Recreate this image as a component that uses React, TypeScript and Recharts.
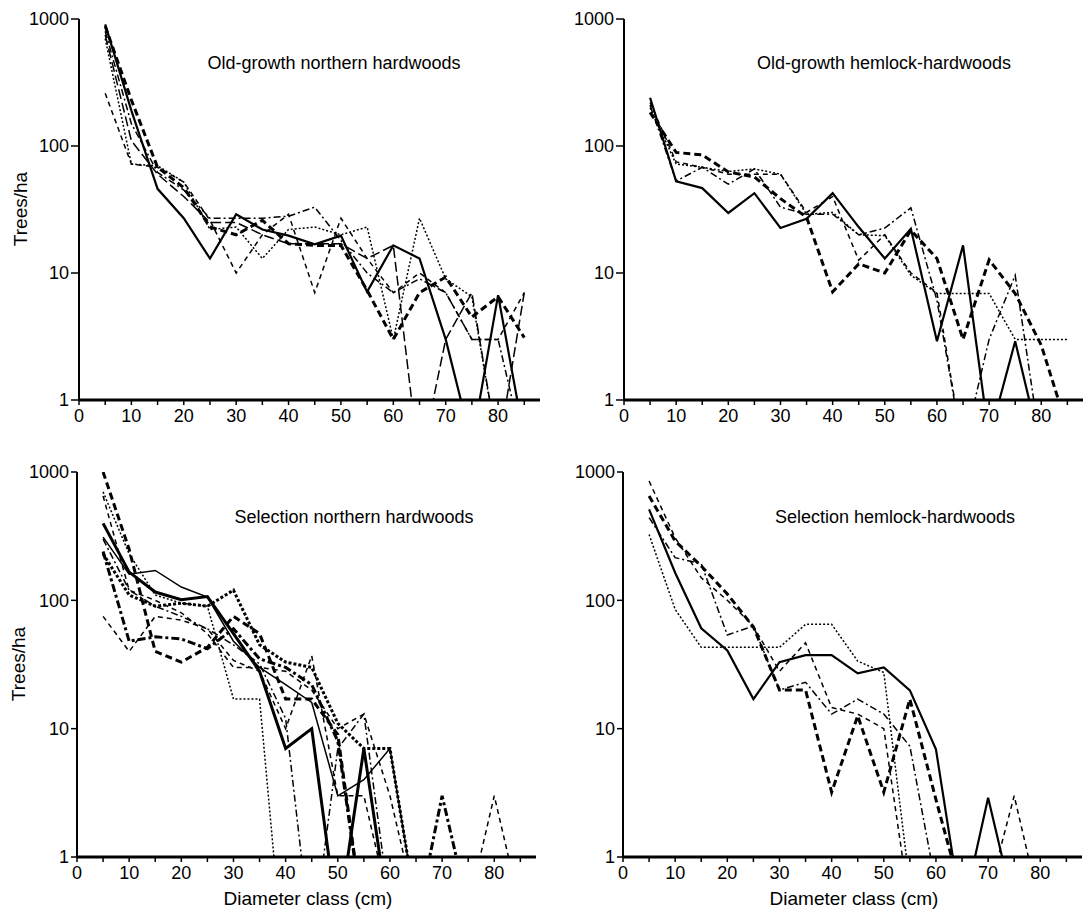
import React from "react";
import { LineChart, Line, XAxis, YAxis } from "recharts";

// Diameter classes (cm)
const diameterClasses = [5, 10, 15, 20, 25, 30, 35, 40, 45, 50, 55, 60, 65, 70, 75, 80, 85];
const xTicks = [0, 5, 10, 15, 20, 25, 30, 35, 40, 45, 50, 55, 60, 65, 70, 75, 80, 85];
const yTicks = [1, 10, 100, 1000];

type V = number | null;

// Old-growth northern hardwoods
const ognhA: V[] = [908, 190, 46, 27, 13, 29, 22, 19.7, 16.8, 19.7, 7.1, 16.5, 13, 3, 0.45, 6.7, 0.5];
const ognhB: V[] = [880, 230, 68, 47, 23, 20, 26, 17, 16.5, 16.5, 7.3, 3, 7, 9.3, 4.5, 6.5, 3.1];
const ognhC: V[] = [260, 72, 68, 52, 26, 10, 20, 29, 7, 27, 13, 7, 10, 7, 3, 3, 7];
const ognhD: V[] = [700, 72, 70, 52, 22, 23, 13, 22, 23, 20, 23, 3, 27, 9, 6.5, 0.4, null];
const ognhE: V[] = [800, 150, 62, 45, 27, 27, 27, 28, 33, 18, 10, 7, 9, 7, 3, 3, 0.4];
const ognhF: V[] = [750, 110, 60, 40, 25, 25, 20, 17, 17, 17, 13, 16.5, 0.3, 3, 7, 0.4, 7];

// Old-growth hemlock-hardwoods
const oghhA: V[] = [240, 52.6, 46.6, 29.7, 42.5, 22.6, 26.7, 42.5, 23, 13, 22.3, 2.9, 16.5, 0.5, 2.9, 0.4, null];
const oghhB: V[] = [184, 89, 85, 62.5, 57, 38.5, 27.5, 7.1, 11.8, 10, 21.7, 13, 3, 12.7, 6.9, 2.7, 0.6];
const oghhC: V[] = [200, 72, 68, 63, 66, 60, 29, 30, 20, 19.7, 9.6, 6.9, 6.9, 6.9, 3, 3, 3];
const oghhD: V[] = [210, 53, 68, 50, 66, 33, 29, 29, 20, 22.6, 32.6, 6.1, 0.4, 3, 9.6, 0.4, null];
const oghhE: V[] = [220, 75, 68, 60, 60, 60, 30, 40, 12.6, 20, 10, 7, 0.4, null, null, null, null];

// Selection northern hardwoods
const snhA: V[] = [398, 166, 116, 101, 107, 55, 28, 7, 10, 0.3, 7, 0.3, null, null, null, null, null];
const snhB: V[] = [311, 160, 171, 127, 106, 48, 30, 22, 16, 3, 4, 7, 0.4, null, null, null, null];
const snhC: V[] = [1000, 250, 40, 33, 43, 75, 55, 17, 17, 9, 0.3, null, null, null, null, null, null];
const snhD: V[] = [75, 40, 75, 70, 60, 34, 28, 10, 37, 3, 3, 0.4, null, null, null, null, null];
const snhE: V[] = [700, 230, 110, 95, 90, 17, 17, 0.1, null, null, null, null, null, null, null, null, null];
const snhF: V[] = [230, 110, 90, 95, 90, 120, 45, 33, 30, 11, 7, 7, 0.4, null, null, null, null];
const snhG: V[] = [240, 48, 52, 50, 42, 60, 35, 30, 22, 8, 0.3, 0.3, 0.3, 3, 0.4, null, null];
const snhH: V[] = [300, 120, 90, 75, 60, 45, 32, 12, 0.2, 7, 13, 0.4, null, null, null, null, null];
const snhI: V[] = [650, 120, 100, 80, 55, 30, 30, 28, 20, 10, 13, 3, 0.4, 0.3, 0.4, 3, 0.4];

// Selection hemlock-hardwoods
const shhA: V[] = [512, 164, 60.6, 40.7, 17, 33, 37.4, 37.4, 27, 30, 19.9, 6.9, 0.35, 2.9, 0.4, null, null];
const shhB: V[] = [650, 290, 185, 112, 62, 20, 20, 3.2, 12.6, 3.2, 17, 2.8, 0.5, null, null, null, null];
const shhC: V[] = [326, 85, 43, 43, 43, 43, 65, 65, 33.6, 27.4, 0.6, null, null, null, null, null, null];
const shhD: V[] = [850, 307, 150, 100, 63, 28, 46.7, 14.6, 13, 10, 0.4, 0.3, 0.3, 0.5, 3, 0.4, null];
const shhE: V[] = [441, 215, 193, 53.7, 63, 20, 23, 13, 17, 13, 7.3, 0.6, null, null, null, null, null];

type Style = { w: number; dash?: string };
const solid: Style = { w: 2.2 };
const thickSolid: Style = { w: 3 };
const thinSolid: Style = { w: 1.5 };
const boldDash: Style = { w: 3, dash: "7 4" };
const thinDash: Style = { w: 1.5, dash: "5 4" };
const dotted: Style = { w: 1.5, dash: "2 2" };
const dashDot: Style = { w: 1.5, dash: "7 3 2 3" };
const longDash: Style = { w: 1.5, dash: "10 4" };
const thickDot: Style = { w: 3, dash: "3 2" };
const thickDashDot: Style = { w: 3, dash: "8 3 3 3" };

type Series = { key: string; values: V[]; style: Style };

const buildRows = (series: Series[]) =>
  diameterClasses.map((d, i) => {
    const row: Record<string, number | null> = { diam: d };
    series.forEach((s) => {
      row[s.key] = s.values[i] ?? null;
    });
    return row;
  });

const FONT = "'Liberation Sans', Arial, Helvetica, sans-serif";
const TICK_FS = 18;

const XTick = (props: any) => {
  const { x, y, payload } = props;
  const v = payload.value;
  if (v % 10 !== 0 || v > 80) return null;
  return (
    <text x={x} y={y} dy="0.71em" textAnchor="middle" fontSize={TICK_FS} fill="#000" fontFamily={FONT}>
      {v}
    </text>
  );
};

const YTick = (props: any) => {
  const { x, y, payload } = props;
  return (
    <text x={x} y={y} dy="0.36em" textAnchor="end" fontSize={TICK_FS} fill="#000" fontFamily={FONT}>
      {payload.value}
    </text>
  );
};

type PanelProps = {
  left: number;
  top: number;
  width: number;
  height: number;
  marginTop: number;
  marginRight: number;
  yAxisWidth: number;
  xAxisHeight: number;
  yTickSize: number;
  series: Series[];
};

const Panel = (p: PanelProps) => {
  const rows = buildRows(p.series);
  return (
    <div style={{ position: "absolute", left: p.left, top: p.top }}>
      <LineChart
        width={p.width}
        height={p.height}
        data={rows}
        margin={{ top: p.marginTop, right: p.marginRight, left: 0, bottom: 0 }}
      >
        <XAxis
          dataKey="diam"
          type="number"
          domain={[0, 88]}
          ticks={xTicks}
          interval={0}
          allowDataOverflow
          height={p.xAxisHeight}
          tickSize={5}
          tickMargin={4}
          tick={<XTick />}
          axisLine={{ stroke: "#000", strokeWidth: 3 }}
          tickLine={{ stroke: "#000", strokeWidth: 1.5 }}
        />
        <XAxis
          xAxisId="top"
          orientation="top"
          dataKey="diam"
          type="number"
          domain={[0, 88]}
          height={0}
          tick={false}
          tickLine={false}
          axisLine={{ stroke: "#000", strokeWidth: 2 }}
        />
        <YAxis
          type="number"
          scale="log"
          domain={[1, 1000]}
          ticks={yTicks}
          interval={0}
          allowDataOverflow
          width={p.yAxisWidth}
          tickSize={p.yTickSize}
          tickMargin={2}
          tick={<YTick />}
          axisLine={{ stroke: "#000", strokeWidth: 2 }}
          tickLine={{ stroke: "#000", strokeWidth: 1.5 }}
        />
        <YAxis
          yAxisId="right"
          orientation="right"
          type="number"
          scale="log"
          domain={[1, 1000]}
          allowDataOverflow
          width={0}
          tick={false}
          tickLine={false}
          axisLine={{ stroke: "#000", strokeWidth: 2 }}
        />
        {p.series.map((s) => (
          <Line
            key={s.key}
            dataKey={s.key}
            type="linear"
            stroke="#000"
            strokeWidth={s.style.w}
            strokeDasharray={s.style.dash}
            dot={false}
            activeDot={false}
            isAnimationActive={false}
            connectNulls={false}
          />
        ))}
      </LineChart>
    </div>
  );
};

const Title = ({ x, y, text }: { x: number; y: number; text: string }) => (
  <div
    style={{
      position: "absolute",
      left: x,
      top: y,
      transform: "translate(-50%, -50%)",
      fontSize: 18,
      whiteSpace: "nowrap",
      color: "#000",
    }}
  >
    {text}
  </div>
);

const YLabel = ({ x, y }: { x: number; y: number }) => (
  <div
    style={{
      position: "absolute",
      left: x,
      top: y,
      transform: "translate(-50%, -50%) rotate(-90deg)",
      fontSize: 19,
      whiteSpace: "nowrap",
      color: "#000",
    }}
  >
    Trees/ha
  </div>
);

const XLabel = ({ x }: { x: number }) => (
  <div
    style={{
      position: "absolute",
      left: x,
      top: 899,
      transform: "translate(-50%, -50%)",
      fontSize: 19,
      whiteSpace: "nowrap",
      color: "#000",
    }}
  >
    Diameter class (cm)
  </div>
);

export default function App() {
  const p1: Series[] = [
    { key: "s1", values: ognhA, style: solid },
    { key: "s2", values: ognhB, style: boldDash },
    { key: "s3", values: ognhC, style: thinDash },
    { key: "s4", values: ognhD, style: dotted },
    { key: "s5", values: ognhE, style: dashDot },
    { key: "s6", values: ognhF, style: longDash },
  ];
  const p2: Series[] = [
    { key: "s1", values: oghhA, style: solid },
    { key: "s2", values: oghhB, style: boldDash },
    { key: "s3", values: oghhC, style: dotted },
    { key: "s4", values: oghhD, style: dashDot },
    { key: "s5", values: oghhE, style: thinDash },
  ];
  const p3: Series[] = [
    { key: "s1", values: snhA, style: thickSolid },
    { key: "s2", values: snhB, style: thinSolid },
    { key: "s3", values: snhC, style: boldDash },
    { key: "s4", values: snhD, style: thinDash },
    { key: "s5", values: snhE, style: dotted },
    { key: "s6", values: snhF, style: thickDot },
    { key: "s7", values: snhG, style: thickDashDot },
    { key: "s8", values: snhH, style: dashDot },
    { key: "s9", values: snhI, style: thinDash },
  ];
  const p4: Series[] = [
    { key: "s1", values: shhA, style: solid },
    { key: "s2", values: shhB, style: boldDash },
    { key: "s3", values: shhC, style: dotted },
    { key: "s4", values: shhD, style: thinDash },
    { key: "s5", values: shhE, style: dashDot },
  ];

  return (
    <div
      style={{
        position: "absolute",
        left: 0,
        top: 0,
        width: 1084,
        height: 910,
        background: "#fff",
        fontFamily: FONT,
        overflow: "hidden",
      }}
    >
      <Panel left={0} top={0} width={545} height={440} marginTop={19} marginRight={5} yAxisWidth={79} xAxisHeight={40} yTickSize={8} series={p1} />
      <Panel left={545} top={0} width={539} height={440} marginTop={19} marginRight={1} yAxisWidth={79} xAxisHeight={40} yTickSize={8} series={p2} />
      <Panel left={0} top={440} width={545} height={470} marginTop={32} marginRight={9} yAxisWidth={77} xAxisHeight={53} yTickSize={6} series={p3} />
      <Panel left={545} top={440} width={539} height={470} marginTop={32} marginRight={2} yAxisWidth={78} xAxisHeight={53} yTickSize={6} series={p4} />

      <Title x={334} y={63} text="Old-growth northern hardwoods" />
      <Title x={884} y={63} text="Old-growth hemlock-hardwoods" />
      <Title x={354} y={517} text="Selection northern hardwoods" />
      <Title x={895} y={517} text="Selection hemlock-hardwoods" />

      <YLabel x={21} y={209} />
      <YLabel x={19} y={664} />

      <XLabel x={308} />
      <XLabel x={854} />
    </div>
  );
}
